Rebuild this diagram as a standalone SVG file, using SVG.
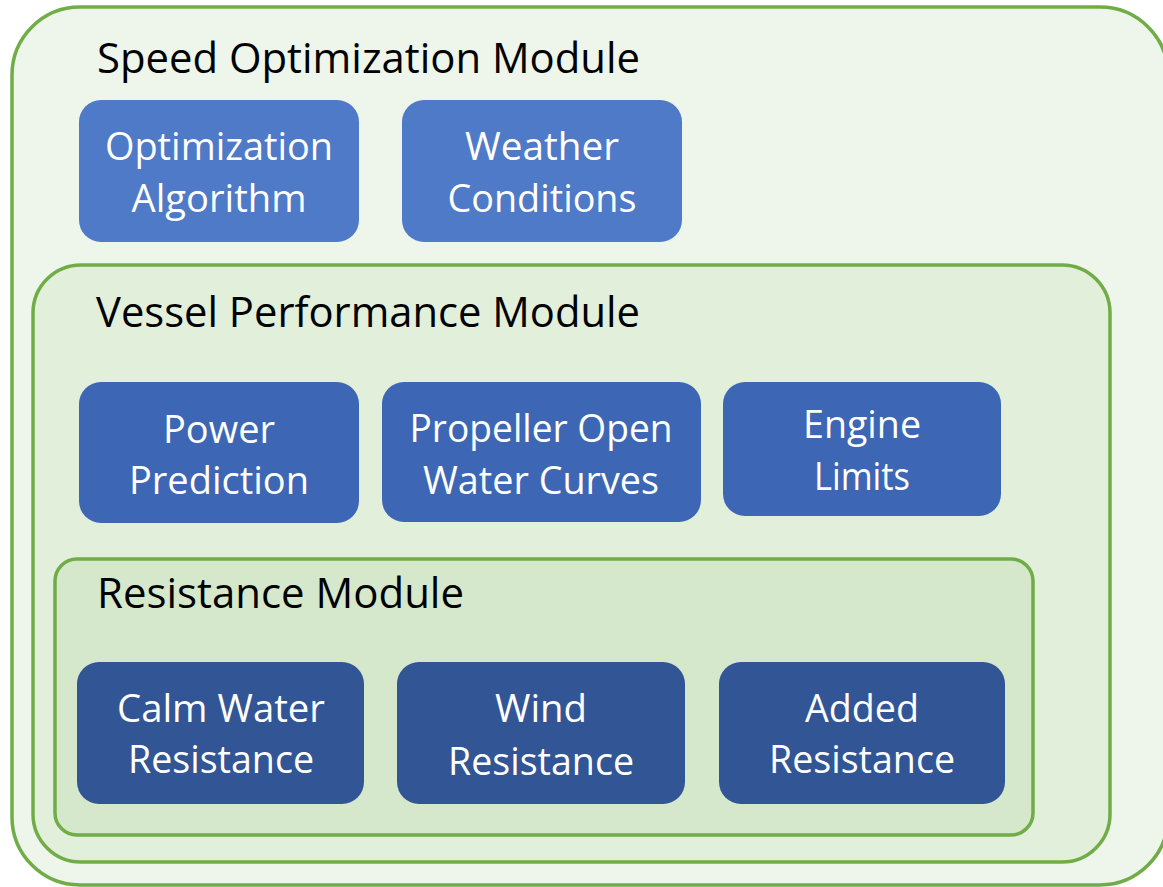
<svg xmlns="http://www.w3.org/2000/svg" width="1163" height="887" viewBox="0 0 1163 887">
<style>
.mod{stroke:#70AD47;stroke-width:3.5}
.title{font-family:"Open Sans","Noto Sans",sans-serif;font-size:42px;fill:#000}
.lbl{font-family:"Open Sans","Noto Sans",sans-serif;font-size:38px;fill:#fff;text-anchor:middle}
.n1{fill:#4E7AC7}
.n2{fill:#3D67B4}
.n3{fill:#325596}
</style>
<rect width="1163" height="887" fill="#ffffff"/>
<g id="speed-optimization-module">
<rect class="mod" x="12" y="7" width="1156" height="878" rx="68" fill="#EEF5EA"/>
<text class="title" x="97" y="73" textLength="543" lengthAdjust="spacingAndGlyphs">Speed Optimization Module</text>
</g>
<g id="optimization-algorithm">
<rect class="n1" x="79" y="100" width="280" height="142" rx="22"/>
<text class="lbl" x="219" y="160" textLength="228" lengthAdjust="spacingAndGlyphs">Optimization</text>
<text class="lbl" x="219" y="212" textLength="175" lengthAdjust="spacingAndGlyphs">Algorithm</text>
</g>
<g id="weather-conditions">
<rect class="n1" x="402" y="100" width="280" height="142" rx="22"/>
<text class="lbl" x="542" y="160" textLength="154" lengthAdjust="spacingAndGlyphs">Weather</text>
<text class="lbl" x="542" y="212" textLength="189" lengthAdjust="spacingAndGlyphs">Conditions</text>
</g>
<g id="vessel-performance-module">
<rect class="mod" x="33" y="265" width="1077" height="597" rx="48" fill="#E2EFDA"/>
<text class="title" x="96" y="327" textLength="544" lengthAdjust="spacingAndGlyphs">Vessel Performance Module</text>
</g>
<g id="power-prediction">
<rect class="n2" x="79" y="382" width="280" height="141" rx="22"/>
<text class="lbl" x="219" y="443" textLength="112" lengthAdjust="spacingAndGlyphs">Power</text>
<text class="lbl" x="219" y="494" textLength="180" lengthAdjust="spacingAndGlyphs">Prediction</text>
</g>
<g id="propeller-open-water-curves">
<rect class="n2" x="382" y="382" width="319" height="140" rx="22"/>
<text class="lbl" x="541" y="442" textLength="263" lengthAdjust="spacingAndGlyphs">Propeller Open</text>
<text class="lbl" x="541" y="494" textLength="236" lengthAdjust="spacingAndGlyphs">Water Curves</text>
</g>
<g id="engine-limits">
<rect class="n2" x="723" y="382" width="278" height="134" rx="22"/>
<text class="lbl" x="862" y="438" textLength="118" lengthAdjust="spacingAndGlyphs">Engine</text>
<text class="lbl" x="862" y="490" textLength="96" lengthAdjust="spacingAndGlyphs">Limits</text>
</g>
<g id="resistance-module">
<rect class="mod" x="55" y="559" width="978" height="276" rx="22" fill="#D5E8CB"/>
<text class="title" x="97" y="608" textLength="367" lengthAdjust="spacingAndGlyphs">Resistance Module</text>
</g>
<g id="calm-water-resistance">
<rect class="n3" x="77" y="662" width="287" height="142" rx="22"/>
<text class="lbl" x="221" y="722" textLength="208" lengthAdjust="spacingAndGlyphs">Calm Water</text>
<text class="lbl" x="221" y="773" textLength="186" lengthAdjust="spacingAndGlyphs">Resistance</text>
</g>
<g id="wind-resistance">
<rect class="n3" x="397" y="662" width="288" height="142" rx="22"/>
<text class="lbl" x="541" y="722" textLength="92" lengthAdjust="spacingAndGlyphs">Wind</text>
<text class="lbl" x="541" y="775" textLength="186" lengthAdjust="spacingAndGlyphs">Resistance</text>
</g>
<g id="added-resistance">
<rect class="n3" x="719" y="662" width="286" height="142" rx="22"/>
<text class="lbl" x="862" y="722" textLength="114" lengthAdjust="spacingAndGlyphs">Added</text>
<text class="lbl" x="862" y="773" textLength="186" lengthAdjust="spacingAndGlyphs">Resistance</text>
</g>
<g id="connectors"></g>
</svg>
